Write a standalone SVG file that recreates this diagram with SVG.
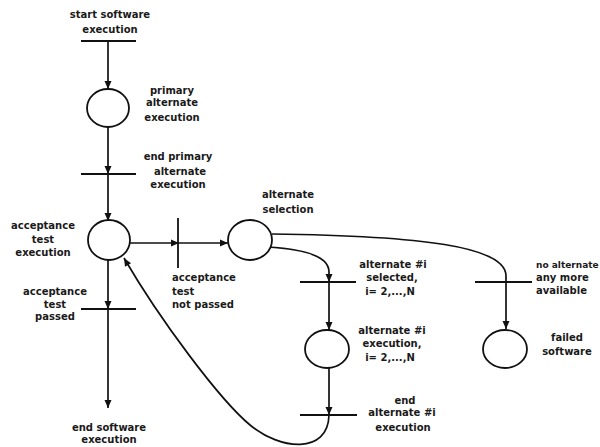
<svg xmlns="http://www.w3.org/2000/svg" width="600" height="447" viewBox="0 0 600 447">
<defs>
<style>
.t{font-family:"DejaVu Sans",Verdana,sans-serif;font-weight:bold;font-size:10px;fill:#1a1a1a}
.c{text-anchor:middle}
.place{fill:#fff;stroke:#111;stroke-width:1.8}
.bar{stroke:#111;stroke-width:1.8;fill:none}
.e{stroke:#111;stroke-width:1.7;fill:none}
.a{marker-end:url(#ah)}
</style>
<marker id="ah" markerUnits="userSpaceOnUse" markerWidth="10" markerHeight="10" viewBox="0 0 10 10" refX="9" refY="5" orient="auto">
<path d="M1,1.5 L9,5 L1,8.5 Z" fill="#111"/>
</marker>
</defs>
<rect width="600" height="447" fill="#fff"/>
<g id="connectors">
<line class="e a" x1="108" y1="41" x2="108" y2="89"/>
<line class="e a" x1="108" y1="127" x2="108" y2="174"/>
<line class="e a" x1="108" y1="174" x2="108" y2="221"/>
<line class="e a" x1="108" y1="260" x2="108" y2="309"/>
<line class="e a" x1="108" y1="309" x2="108" y2="408"/>
<line class="e a" x1="130" y1="243" x2="179" y2="243"/>
<line class="e a" x1="179" y1="243" x2="228" y2="243"/>
<path class="e a" d="M267,247 C305,249 329,256 329,272 L329,282"/>
<line class="e a" x1="329" y1="282" x2="329" y2="330"/>
<line class="e a" x1="329" y1="368" x2="329" y2="415"/>
<path class="e" d="M272,234 C420,236 506,246 506,276 L506,282"/>
<line class="e a" x1="506" y1="282" x2="506" y2="329"/>
<path class="e a" d="M329,415 C328,455 280,450 250,425 C220,400 160,320 124,258"/>
</g>
<g id="start-software-execution">
<line class="bar" x1="81" y1="41" x2="136" y2="41"/>
<text class="t c" x="110" y="18">start software</text>
<text class="t c" x="110" y="33">execution</text>
</g>
<g id="primary-alternate-execution">
<ellipse class="place" cx="108" cy="108" rx="21" ry="19"/>
<text class="t c" x="172" y="94">primary</text>
<text class="t c" x="172" y="106">alternate</text>
<text class="t c" x="172" y="121">execution</text>
</g>
<g id="end-primary-alternate-execution">
<line class="bar" x1="81" y1="174" x2="136" y2="174"/>
<text class="t c" x="178" y="160">end primary</text>
<text class="t c" x="180" y="175">alternate</text>
<text class="t c" x="178" y="188">execution</text>
</g>
<g id="acceptance-test-execution">
<ellipse class="place" cx="109" cy="240" rx="21" ry="20"/>
<text class="t c" x="43" y="229">acceptance</text>
<text class="t c" x="43" y="243">test</text>
<text class="t c" x="43" y="256">execution</text>
</g>
<g id="acceptance-test-passed">
<line class="bar" x1="81" y1="309" x2="136" y2="309"/>
<text class="t c" x="55" y="295">acceptance</text>
<text class="t c" x="55" y="308">test</text>
<text class="t c" x="55" y="320">passed</text>
</g>
<g id="end-software-execution">
<text class="t c" x="109" y="431">end software</text>
<text class="t c" x="109" y="443">execution</text>
</g>
<g id="acceptance-test-not-passed">
<line class="bar" x1="178" y1="218" x2="178" y2="268"/>
<text class="t" x="172" y="281">acceptance</text>
<text class="t" x="172" y="295">test</text>
<text class="t" x="172" y="308">not passed</text>
</g>
<g id="alternate-selection">
<ellipse class="place" cx="250" cy="240" rx="22" ry="20"/>
<text class="t c" x="288" y="198">alternate</text>
<text class="t c" x="288" y="213">selection</text>
</g>
<g id="alternate-i-selected">
<line class="bar" x1="300" y1="282" x2="356" y2="282"/>
<text class="t c" x="393" y="268">alternate #i</text>
<text class="t c" x="392" y="281">selected,</text>
<text class="t c" x="390" y="295">i= 2,...,N</text>
</g>
<g id="alternate-i-execution">
<ellipse class="place" cx="327" cy="349" rx="22" ry="19"/>
<text class="t c" x="392" y="334">alternate #i</text>
<text class="t c" x="392" y="347">execution,</text>
<text class="t c" x="390" y="361">i= 2,...,N</text>
</g>
<g id="end-alternate-i-execution">
<line class="bar" x1="300" y1="415" x2="357" y2="415"/>
<text class="t c" x="405" y="404">end</text>
<text class="t c" x="402" y="416">alternate #i</text>
<text class="t c" x="403" y="431">execution</text>
</g>
<g id="no-alternate-available">
<line class="bar" x1="475" y1="282" x2="532" y2="282"/>
<text class="t" x="536" y="268" style="font-size:9px">no alternate</text>
<text class="t" x="536" y="281">any more</text>
<text class="t" x="536" y="294">available</text>
</g>
<g id="failed-software">
<ellipse class="place" cx="505" cy="349" rx="22" ry="19"/>
<text class="t c" x="567" y="341">failed</text>
<text class="t c" x="567" y="355">software</text>
</g>
</svg>
